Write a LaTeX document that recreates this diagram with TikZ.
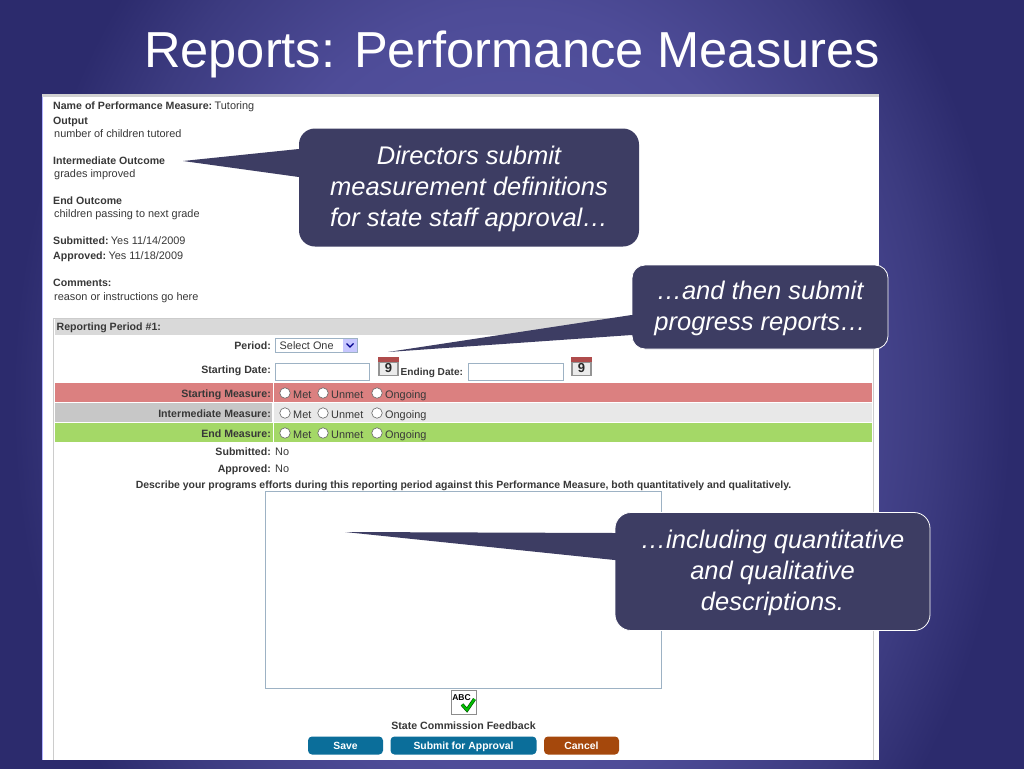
\documentclass[tikz,border=0pt]{standalone}
\usepackage{fontspec}
\setmainfont{Liberation Sans}
\usetikzlibrary{calc}
\definecolor{bginner}{HTML}{5C5CA8}
\definecolor{bgmid}{HTML}{4E4C98}
\definecolor{bgdim}{HTML}{3C3B80}
\definecolor{bgouter}{HTML}{2C2B6D}
\definecolor{callfill}{HTML}{3D3D63}
\definecolor{inktext}{HTML}{383838}
\definecolor{bandred}{HTML}{DB8080}
\definecolor{bandgreen}{HTML}{A4D867}
\definecolor{btnblue}{HTML}{0B6E9A}
\definecolor{btnred}{HTML}{A5480C}
\definecolor{fieldline}{HTML}{9DB2C4}
\pgfdeclareradialshading{slidebg}{\pgfpoint{0bp}{0bp}}{color(0bp)=(bginner); color(11.7bp)=(bgmid); color(16.4bp)=(bgdim); color(19.5bp)=(bgouter); color(50bp)=(bgouter)}
\tikzset{
  x=1pt,y=-1pt,
  callout/.style={fill=callfill,rounded corners=16pt,inner sep=0pt,align=center,text=white,font=\fontsize{25.5}{31}\selectfont\itshape,anchor=center},
  outlined/.style={draw=white,line width=0.8pt},
  tail/.style={fill=callfill},
  lab/.style={inner sep=0pt,anchor=base west,text=inktext,font=\fontsize{10.9}{12}\selectfont},
  blab/.style={lab,font=\fontsize{10.6}{12}\selectfont\bfseries},
  rlab/.style={blab,anchor=base east},
  opt/.style={circle,draw=black!60,fill=white,line width=0.6pt,minimum size=10.5pt,inner sep=0pt},
  field/.style={draw=fieldline,fill=white,line width=0.8pt,inner sep=0pt},
  btn/.style={rounded corners=4pt,text=white,inner sep=0pt,text height=10.4pt,text depth=2pt,font=\fontsize{10.4}{12}\selectfont\bfseries},
}
\newcommand{\radiorow}[3]{%
  \node[opt] (m#3) at (285,#1) {};
  \node[opt] (u#3) at (323,#1) {};
  \node[opt] (o#3) at (377,#1) {};
  \node[lab] (mt#3) at (293,#2) {Met};
  \node[lab] (ut#3) at (331,#2) {Unmet};
  \node[lab] (ot#3) at (385,#2) {Ongoing};
}
\newcommand{\calicon}[3]{%
  \fill[black!42] (#2,#3) rectangle ++(21,19);
  \fill[white!92!black] (#2+2,#3+5.5) rectangle ++(17,12);
  \fill[red!55!black!70] (#2,#3) rectangle ++(21,5);
  \node[inner sep=0pt,text=black!85,font=\fontsize{13}{13}\selectfont\bfseries] (#1) at (#2+10.5,#3+11.5) {9};
}
\begin{document}
\begin{tikzpicture}
\useasboundingbox (0,0) rectangle (1024,768);
\begin{scope}
\clip (0,0) rectangle (1024,768);
\path[shading=slidebg] (512-640,400-832) rectangle (512+640,400+832);
\end{scope}
\node[inner sep=0pt,text=white,font=\fontsize{50.6}{52}\selectfont] (title) at (512,54) {Reports: Performance Measures};
% panel
\fill[white] (42,94) rectangle (879,760);
\fill[black!18] (42,94) rectangle (879,97);
\draw[blue!30!white,line width=0.8pt] (42.4,97) -- (42.4,760);
\draw[black!20,line width=1pt] (53.5,318) -- (873.5,318) (53.5,318) -- (53.5,760) (873.5,318) -- (873.5,760);
% head text
\node[blab] (h1) at (53,109.5) {Name of Performance Measure:};
\node[lab] (h1b) at (h1.base east) [xshift=2pt] {Tutoring};
\node[blab] (h2) at (53,124.5) {Output};
\node[lab] (h3) at (54,137) {number of children tutored};
\node[blab] (h4) at (53,164.5) {Intermediate Outcome};
\node[lab] (h5) at (54,177) {grades improved};
\node[blab] (h6) at (53,204.5) {End Outcome};
\node[lab] (h7) at (54,217) {children passing to next grade};
\node[blab] (h8) at (53,244.5) {Submitted:};
\node[lab] (h8b) at (h8.base east) [xshift=2pt] {Yes 11/14/2009};
\node[blab] (h9) at (53,259.5) {Approved:};
\node[lab] (h9b) at (h9.base east) [xshift=2pt] {Yes 11/18/2009};
\node[blab] (h10) at (53,286.5) {Comments:};
\node[lab] (h11) at (54,300) {reason or instructions go here};
% bands
\fill[black!15] (55,319) rectangle (872,335);
\node[blab] (rp) at (56.5,330.5) {Reporting Period \#1:};
\fill[bandred] (55,383) rectangle (872,402);
\fill[black!22] (55,403) rectangle (272,422);
\fill[black!9] (274,403) rectangle (872,422);
\fill[bandgreen] (55,423) rectangle (872,442);
\fill[white] (272.5,383) rectangle (273.5,442);
% labels
\node[rlab] (lp) at (271,349) {Period:};
\node[rlab] (ls) at (271,373.5) {Starting Date:};
\node[rlab] (l1) at (271,397) {Starting Measure:};
\node[rlab] (l2) at (271,417) {Intermediate Measure:};
\node[rlab] (l3) at (271,437) {End Measure:};
\node[rlab] (l4) at (271,455.5) {Submitted:};
\node[lab] (l4b) at (275,455.5) {No};
\node[rlab] (l5) at (271,472) {Approved:};
\node[lab] (l5b) at (275,472) {No};
\node[blab,anchor=base,font=\fontsize{10.45}{12}\selectfont\bfseries] (desc) at (463.5,488) {Describe your programs efforts during this reporting period against this Performance Measure, both quantitatively and qualitatively.};
% fields
\draw[field] (275.5,338) rectangle (357.5,352.5);
\node[lab] (sel) at (279.5,349) {Select One};
\fill[blue!22!white] (343,339) rectangle (357,352);
\draw[blue!55!black,line width=1.3pt] (346.5,343.5) -- (350,347) -- (353.5,343.5);
\draw[field] (275.5,363.5) rectangle (369.5,380.5);
\calicon{cala}{378}{357}
\node[blab,font=\fontsize{10.1}{12}\selectfont\bfseries] (le) at (400.5,375.5) {Ending Date:};
\draw[field] (468.5,363.5) rectangle (563,380.5);
\calicon{calb}{571}{357}
\radiorow{393}{398.5}{a}
\radiorow{413}{418.5}{b}
\radiorow{433}{438.5}{c}
% text area
\draw[field] (265.5,491.5) rectangle (661.5,688.5);
% spell check
\draw[black!45,fill=white,line width=0.6pt] (451.5,690.5) rectangle (476.5,714.5);
\node[inner sep=0pt,text=black,font=\fontsize{8.5}{9}\selectfont\bfseries] (abc) at (461.5,697.5) {ABC};
\draw[green!35!black,line width=3.4pt] (462,704.5) -- (467,710) -- (474.5,699);
\draw[green!75!black,line width=2pt] (462,704.5) -- (467,710) -- (474.5,699);
\node[blab,anchor=base] (fb) at (463.5,729.5) {State Commission Feedback};
% buttons
\node[btn,fill=btnblue,minimum width=75pt,minimum height=18pt] (save) at (345.5,745.5) {Save};
\node[btn,fill=btnblue,minimum width=146pt,minimum height=18pt] (sub) at (463.5,745.5) {Submit for Approval};
\node[btn,fill=btnred,minimum width=75pt,minimum height=18pt] (can) at (581.5,745.5) {Cancel};
% callouts
\node[callout,minimum width=340pt,minimum height=118pt] (c1) at (469,187.5) {\rule{0pt}{21.5pt}Directors submit\\measurement definitions\\for state staff approval…};
\coordinate (t1) at (183,161);
\fill[tail] (t1) -- (c1.west |- 0,149) -- ([xshift=4pt]c1.west |- 0,149) -- ([xshift=4pt]c1.west |- 0,177) -- (c1.west |- 0,177) -- cycle;
\node[callout,outlined,minimum width=256pt,minimum height=84pt,rounded corners=13pt] (c2) at (760,307) {\rule{0pt}{21.5pt}…and then submit\\progress reports…};
\coordinate (t2) at (388,352);
\fill[tail] (t2) -- (c2.west |- 0,315) -- ([xshift=2pt]c2.west |- 0,315) -- ([xshift=2pt]c2.west |- 0,335) -- (c2.west |- 0,335) -- cycle;
\node[callout,outlined,minimum width=315pt,minimum height=118pt] (c3) at (772.5,571.5) {\rule{0pt}{21.5pt}…including quantitative\\and qualitative\\descriptions.};
\coordinate (t3) at (345,532);
\fill[tail] (t3) -- (c3.west |- 0,533) -- ([xshift=2pt]c3.west |- 0,533) -- ([xshift=2pt]c3.west |- 0,560) -- (c3.west |- 0,560) -- cycle;
\end{tikzpicture}
\end{document}
